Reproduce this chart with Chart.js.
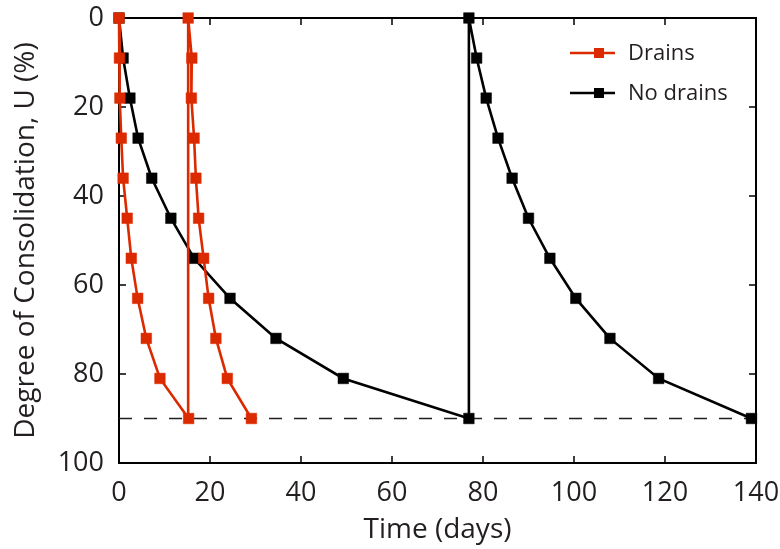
<!DOCTYPE html>
<html>
<head>
<meta charset="utf-8">
<script src="https://cdn.jsdelivr.net/npm/chart.js@4/dist/chart.umd.min.js"></script>
<style>
  html, body { margin: 0; padding: 0; background: #ffffff; }
  #wrap { width: 780px; height: 549px; }
</style>
</head>
<body>
<div id="wrap"><canvas id="c" width="780" height="549"></canvas></div>
<script>
// ---- Data ----
const consolidationLevels = [0, 9, 18, 27, 36, 45, 54, 63, 72, 81, 90];   // U (%)
const drainsStage1Days   = [0, 0.1, 0.2, 0.5, 0.9, 1.8, 2.7, 4.1, 6.0, 9.0, 15.3];
const drainsStage2Days   = [15.2, 16.0, 15.9, 16.5, 16.9, 17.5, 18.6, 19.7, 21.3, 23.8, 29.1];
const noDrainsStage1Days = [0, 0.9, 2.4, 4.2, 7.2, 11.4, 16.5, 24.4, 34.5, 49.3, 76.9];
const noDrainsStage2Days = [76.9, 78.6, 80.7, 83.3, 86.4, 90.0, 94.7, 100.4, 107.9, 118.6, 139.0];
const targetU = 90;
const timeRange = [0, 140];
const seriesLabels = ['Drains', 'No drains'];
const xTickValues = [0, 20, 40, 60, 80, 100, 120, 140];
const yTickValues = [0, 20, 40, 60, 80, 100];

const RED = '#dc2a00';
const BLACK = '#000000';
const TEXT = '#231f20';
const FONT = "'Open Sans', 'DejaVu Sans', sans-serif";

function toPoints(days, levels) {
  return days.map((d, i) => ({ x: d, y: levels[i] }));
}
const drainsData = toPoints(drainsStage1Days, consolidationLevels)
  .concat(toPoints(drainsStage2Days, consolidationLevels));
const noDrainsData = toPoints(noDrainsStage1Days, consolidationLevels)
  .concat(toPoints(noDrainsStage2Days, consolidationLevels));
const targetData = timeRange.map(t => ({ x: t, y: targetU }));

// ---- Plugins: box frame with inward ticks, and an in-plot legend ----
const framePlugin = {
  id: 'frame',
  beforeDatasetsDraw(chart) {
    const { ctx, chartArea: a, scales: { x, y } } = chart;
    ctx.save();
    ctx.strokeStyle = BLACK;
    ctx.lineWidth = 2;
    ctx.strokeRect(a.left, a.top, a.right - a.left, a.bottom - a.top);
    const tl = 7;
    ctx.beginPath();
    xTickValues.forEach(v => {
      const px = x.getPixelForValue(v);
      ctx.moveTo(px, a.bottom); ctx.lineTo(px, a.bottom - tl);
      ctx.moveTo(px, a.top); ctx.lineTo(px, a.top + tl);
    });
    yTickValues.forEach(v => {
      const py = y.getPixelForValue(v);
      ctx.moveTo(a.left, py); ctx.lineTo(a.left + tl, py);
      ctx.moveTo(a.right, py); ctx.lineTo(a.right - tl, py);
    });
    ctx.lineWidth = 1.5;
    ctx.stroke();
    ctx.restore();
  }
};

const legendPlugin = {
  id: 'inlegend',
  afterDraw(chart) {
    const { ctx } = chart;
    const items = [
      { label: chart.data.datasets[0].label, color: RED, y: 53 },
      { label: chart.data.datasets[1].label, color: BLACK, y: 93 }
    ];
    ctx.save();
    items.forEach(it => {
      ctx.strokeStyle = it.color;
      ctx.lineWidth = 2.5;
      ctx.beginPath();
      ctx.moveTo(570, it.y); ctx.lineTo(615, it.y);
      ctx.stroke();
      ctx.fillStyle = it.color;
      ctx.fillRect(594, it.y - 5, 10, 10);
      ctx.fillStyle = TEXT;
      ctx.font = "22px " + FONT;
      ctx.textAlign = 'left';
      ctx.textBaseline = 'middle';
      ctx.fillText(it.label, 628, it.y + 1);
    });
    ctx.restore();
  }
};

function zeroPadding(scale) {
  scale.paddingTop = 0;
  scale.paddingBottom = 0;
  scale.paddingLeft = 0;
  scale.paddingRight = 0;
}

const ctx = document.getElementById('c').getContext('2d');
new Chart(ctx, {
  type: 'scatter',
  data: {
    datasets: [
      {
        label: seriesLabels[0],
        data: drainsData,
        showLine: true,
        borderColor: RED,
        backgroundColor: RED,
        borderWidth: 2.6,
        pointStyle: 'rect',
        pointRadius: 7.5,
        pointBorderWidth: 0.5,
        pointBorderColor: RED,
        pointBackgroundColor: RED,
        clip: false,
        tension: 0
      },
      {
        label: seriesLabels[1],
        data: noDrainsData,
        showLine: true,
        borderColor: BLACK,
        backgroundColor: BLACK,
        borderWidth: 2.6,
        pointStyle: 'rect',
        pointRadius: 7.5,
        pointBorderWidth: 0.5,
        pointBorderColor: BLACK,
        pointBackgroundColor: BLACK,
        clip: false,
        tension: 0
      },
      {
        label: 'U = 90%',
        data: targetData,
        showLine: true,
        borderColor: '#231f20',
        borderWidth: 1.6,
        borderDash: [13, 12],
        pointRadius: 0,
        clip: false
      }
    ]
  },
  options: {
    responsive: false,
    animation: false,
    devicePixelRatio: 1,
    layout: { padding: { top: 18, right: 24, left: 0, bottom: 0 } },
    plugins: {
      legend: { display: false },
      tooltip: { enabled: false }
    },
    scales: {
      x: {
        type: 'linear',
        min: timeRange[0],
        max: timeRange[1],
        afterBuildTicks(scale) { scale.ticks = xTickValues.map(v => ({ value: v })); },
        afterFit(scale) { scale.height = 86; zeroPadding(scale); },
        grid: { display: false, drawTicks: false },
        border: { display: false },
        ticks: {
          color: TEXT,
          padding: 14,
          maxRotation: 0,
          autoSkip: false,
          font: { family: FONT, size: 27 }
        },
        title: {
          display: true,
          text: 'Time (days)',
          color: TEXT,
          font: { family: FONT, size: 28 },
          padding: { top: 0, bottom: 2 }
        }
      },
      y: {
        type: 'linear',
        reverse: true,
        min: 0,
        max: 100,
        afterBuildTicks(scale) { scale.ticks = yTickValues.map(v => ({ value: v })); },
        afterFit(scale) { scale.width = 119; zeroPadding(scale); },
        grid: { display: false, drawTicks: false },
        border: { display: false },
        ticks: {
          color: TEXT,
          padding: 15,
          autoSkip: false,
          font: { family: FONT, size: 27 }
        },
        title: {
          display: true,
          text: 'Degree of Consolidation, U (%)',
          color: TEXT,
          font: { family: FONT, size: 28 },
          padding: { top: 9, bottom: 0 }
        }
      }
    }
  },
  plugins: [framePlugin, legendPlugin]
});
</script>
</body>
</html>
